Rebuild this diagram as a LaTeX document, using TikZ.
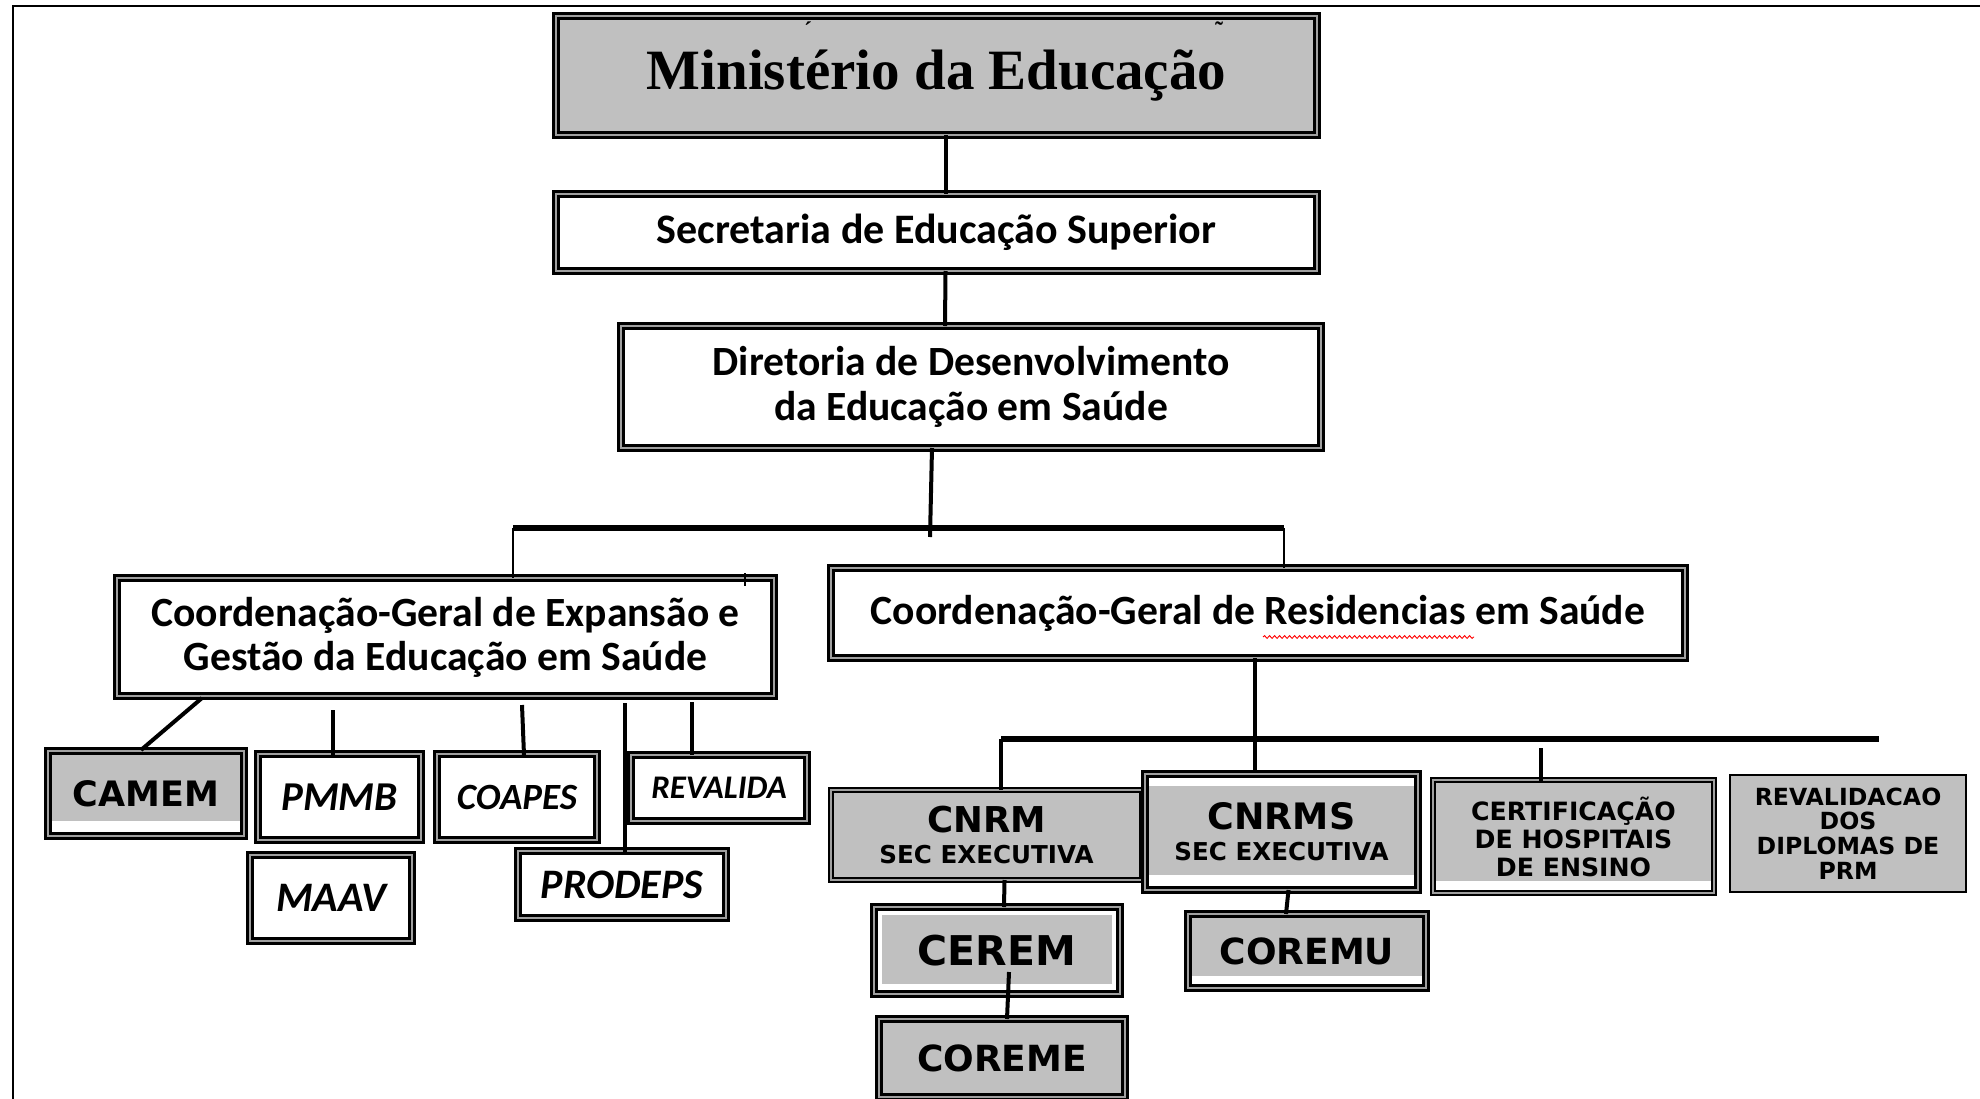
\documentclass[tikz,border=0pt]{standalone}
\usepackage{fontspec}
\setmainfont{Carlito}
\newfontfamily\calfont{Carlito}
\newfontfamily\dvfont{DejaVu Sans}
\newfontfamily\serfont{Liberation Serif}
\usetikzlibrary{calc,decorations.pathmorphing}
\definecolor{boxgray}{HTML}{C0C0C0}
\definecolor{ringgray}{HTML}{A0A0A0}
\tikzset{
  every node/.style={inner sep=0pt, outer sep=0pt},
  spot/.style n args={4}{at={({(#1+#3)/2},{(#2+#4)/2})}, minimum width={(#3-#1)*0.5pt}, minimum height={(#4-#2)*0.5pt}},
  frame/.style={draw=black, line width=1.1pt, double=ringgray, double distance=1.4pt, align=center, fill=white},
  thinframe/.style={draw=black, line width=0.9pt, align=center, fill=boxgray},
  band/.style n args={3}{path picture={\fill[boxgray] ($(path picture bounding box.north west)+(#3,#1)$) rectangle ($(path picture bounding box.south east)+(-#3,-#2)$);}},
  conn/.style={line width=2pt},
  thinconn/.style={line width=0.8pt},
  bar/.style={line width=2.6pt},
  coordtext/.style={font=\calfont\bfseries\fontsize{20.8}{22.5}\selectfont},
  captext/.style={font=\dvfont\bfseries},
}
\begin{document}
\begin{tikzpicture}[x=0.5pt, y=-0.5pt]
\useasboundingbox (0,0) rectangle (1980,1098);
% outer frame
\coordinate (fbl) at (13,1100);
\coordinate (ftl) at (13,6);
\coordinate (ftr) at (1982,6);
\draw[line width=1.2pt] (fbl) -- (ftl) -- (ftr);

% top chain
\node[frame, fill=boxgray, spot={556}{16}{1317}{135}, font=\serfont\bfseries\fontsize{28.5}{30}\selectfont] (min) {Ministério da Educação};
\node[font=\serfont\bfseries\fontsize{12}{12}\selectfont] (acc1) at (808,30) {\char"00B4};
\node[font=\serfont\bfseries\fontsize{12}{12}\selectfont] (acc2) at (1219,30) {\char"02DC};
\node[frame, spot={556}{194}{1317}{271}, coordtext, font=\calfont\bfseries\fontsize{21}{22.5}\selectfont] (sec) {Secretaria de Educação Superior};
\node[frame, spot={621}{326}{1321}{448}, coordtext] (dir) {Diretoria de Desenvolvimento\\da Educação em Saúde};

\draw[conn] ($(min.south)+(9,0)$) -- ($(sec.north)+(9,0)$);
\draw[conn] ($(sec.south)+(9,0)$) -- ($(dir.north)+(-26,0)$);

% coordination level
\node[frame, spot={117}{578}{774}{696}, coordtext, font=\calfont\bfseries\fontsize{20.8}{22}\selectfont] (cge) {Coordenação-Geral de Expansão e\\Gestão da Educação em Saúde};
\node[frame, spot={831}{568}{1685}{658}, coordtext] (cgr) {Coordenação-Geral de Residencias em Saúde};
\draw[red, line width=0.45pt, decorate, decoration={snake, amplitude=0.7pt, segment length=2.5pt}] ($(cgr.center)+(5,24)$) -- ($(cgr.center)+(216,24)$);

\coordinate (j1) at (930,537);
\coordinate (bl) at (513,528);
\coordinate (br) at (1284,528);
\draw[conn] ($(dir.south)+(-39,0)$) -- (j1);
\draw[bar] (bl) -- (br);
\draw[thinconn] (bl) -- (bl |- cge.north);
\draw[thinconn] (br) -- (br |- cgr.north);
\draw[thinconn] ($(cge.north east)+(-29,-5)$) -- ($(cge.north east)+(-29,8)$);

% left children
\node[frame, band={0}{15}{0}, spot={48}{751}{244}{836}, font=\dvfont\bfseries\fontsize{17.5}{18}\selectfont] (camem) {CAMEM};
\node[frame, spot={258}{754}{421}{840}, font=\calfont\bfseries\itshape\fontsize{20.5}{21}\selectfont] (pmmb) {PMMB};
\node[frame, spot={437}{754}{597}{840}, font=\calfont\bfseries\itshape\fontsize{18.5}{19}\selectfont] (coapes) {COAPES};
\node[frame, spot={631}{755}{807}{821}, font=\calfont\bfseries\itshape\fontsize{16.5}{17}\selectfont] (revalida) {REVALIDA};
\node[frame, spot={250}{855}{412}{941}, font=\calfont\bfseries\itshape\fontsize{21}{22}\selectfont] (maav) {MAAV};
\node[frame, spot={518}{851}{726}{918}, font=\calfont\bfseries\itshape\fontsize{21}{22}\selectfont] (prodeps) {PRODEPS};

\draw[conn] ($(cge.south west)+(85,2)$) -- ($(camem.north)+(-5,-1)$);
\draw[conn] ($(pmmb.north)+(-7,-44)$) -- ($(pmmb.north)+(-7,4)$);
\draw[conn] ($(coapes.north)+(5,-49)$) -- ($(coapes.north)+(7,1)$);
\draw[conn] ($(revalida.north)+(-27,-53)$) -- ($(revalida.north)+(-27,0)$);
\draw[conn] ($(prodeps.north)+(3,-148)$) -- ($(prodeps.north)+(3,2)$);

% right children
\coordinate (rbl) at (1001,739);
\coordinate (rbr) at (1879,739);
\draw[conn] ($(cgr.south)+(-3,0)$) -- ($(cgr.south)+(-3,117)$) coordinate (rj);
\draw[bar] (rbl) -- (rbr);

\node[frame, fill=boxgray, double distance=0.9pt, line width=0.9pt, spot={831}{790}{1142}{880}, captext] (cnrm) {{\fontsize{17.8}{18}\selectfont CNRM}\\[3.5pt]{\fontsize{12.3}{15}\selectfont SEC EXECUTIVA}};
\node[frame, band={12}{15}{0}, spot={1145}{774}{1418}{890}, captext] (cnrms) {{\fontsize{18.2}{18}\selectfont CNRMS}\\[3.5pt]{\fontsize{12.3}{15}\selectfont SEC EXECUTIVA}};
\node[frame, band={0}{12}{0}, double distance=0.9pt, line width=0.9pt, spot={1433}{780}{1714}{893}, font=\dvfont\bfseries\fontsize{12.6}{14}\selectfont] (cert) {CERTIFICAÇÃO\\DE HOSPITAIS\\DE ENSINO};
\node[thinframe, spot={1730}{775}{1966}{892}, font=\dvfont\bfseries\fontsize{11.8}{12.4}\selectfont] (reval) {REVALIDACAO\\DOS\\DIPLOMAS DE\\PRM};

\draw[conn] (rbl) -- (rbl |- cnrm.north);
\draw[conn] ($(cert.north)+(-33,-32)$) -- ($(cert.north)+(-33,2)$);

\node[frame, band={8}{10}{8}, spot={874}{907}{1120}{994}, font=\dvfont\bfseries\fontsize{20.5}{21}\selectfont] (cerem) {CEREM};
\node[frame, fill=boxgray, spot={879}{1019}{1125}{1097}, font=\dvfont\bfseries\fontsize{18}{19}\selectfont] (coreme) {COREME};
\node[frame, band={0}{12}{0}, spot={1188}{914}{1426}{988}, font=\dvfont\bfseries\fontsize{18}{19}\selectfont] (coremu) {COREMU};

\draw[conn] ($(cnrm.south)+(18,0)$) -- ($(cerem.north)+(7,0)$);
\draw[conn] ($(cerem.south)+(12,-22)$) -- ($(coreme.north)+(5,0)$);
\draw[conn] ($(cnrms.south)+(7,0)$) -- ($(coremu.north)+(-21,0)$);
\end{tikzpicture}
\end{document}
